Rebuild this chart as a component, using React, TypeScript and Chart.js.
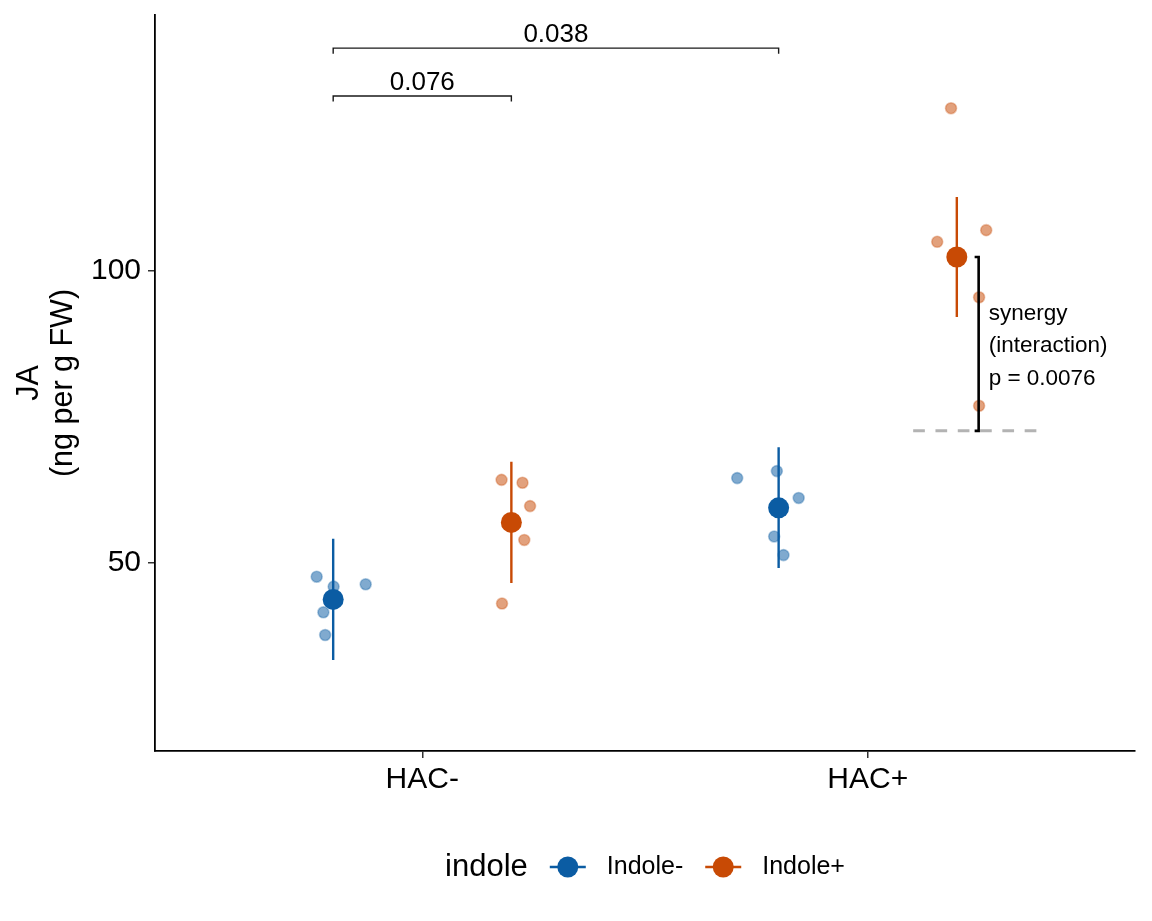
import React, { useEffect, useRef } from 'react';
import { Chart, registerables } from 'chart.js';

Chart.register(...registerables);

// ---------------- data ----------------
const categories = ['HAC-', 'HAC+'];
const groupNames = ['Indole-', 'Indole+'];
const yTicks = [50, 100];
const yTitleLines = ['JA', '(ng per g FW)'];
const legendTitle = 'indole';

// individual observations (jittered), per category for each indole group
const obsIndoleMinusHACminus = [47.6, 45.9, 46.3, 41.5, 37.6];
const jitIndoleMinusHACminus = [-0.037, 0.001, 0.073, -0.022, -0.018];
const obsIndoleMinusHACplus = [64.5, 65.7, 61.1, 54.5, 51.3];
const jitIndoleMinusHACplus = [-0.093, -0.004, 0.045, -0.01, 0.011];
const obsIndolePlusHACminus = [64.2, 63.7, 59.7, 53.9, 43.0];
const jitIndolePlusHACminus = [-0.022, 0.025, 0.042, 0.029, -0.021];
const obsIndolePlusHACplus = [127.9, 105.0, 107.0, 95.5, 76.9];
const jitIndolePlusHACplus = [-0.013, -0.044, 0.066, 0.05, 0.05];

// summary (mean with error bar), order: HAC-, HAC+
const meanIndoleMinus = [43.7, 59.4];
const lowIndoleMinus = [33.3, 49.1];
const highIndoleMinus = [54.1, 69.8];
const meanIndolePlus = [56.9, 102.4];
const lowIndolePlus = [46.5, 92.1];
const highIndolePlus = [67.3, 112.7];

// significance brackets: [categoryIndex, groupIndex]
const bracketFrom = [[0, 0], [0, 0]];
const bracketTo = [[0, 1], [1, 0]];
const bracketLabels = ['0.076', '0.038'];
const bracketHeights = [130.0, 138.2];

const synergyLines = ['synergy', '(interaction)', 'p = 0.0076'];

// ---------------- styling ----------------
const FONT = '"Liberation Sans", Arial, Helvetica, sans-serif';
const COLORS = ['#0B5CA3', '#C84A05'];
const POINT_FILL = ['rgba(11,92,163,0.52)', 'rgba(200,74,5,0.52)'];
const POINT_BORDER = ['rgba(11,92,163,0.32)', 'rgba(200,74,5,0.32)'];
const DODGE = 0.2;

const xPos = (cat: number, grp: number) => cat + 1 + (grp === 0 ? -DODGE : DODGE);

const obs = [
  [obsIndoleMinusHACminus, obsIndoleMinusHACplus],
  [obsIndolePlusHACminus, obsIndolePlusHACplus],
];
const jit = [
  [jitIndoleMinusHACminus, jitIndoleMinusHACplus],
  [jitIndolePlusHACminus, jitIndolePlusHACplus],
];
const means = [meanIndoleMinus, meanIndolePlus];
const lows = [lowIndoleMinus, lowIndolePlus];
const highs = [highIndoleMinus, highIndolePlus];

const annotationPlugin = {
  id: 'annotations',
  afterDatasetsDraw(chart: any) {
    const ctx = chart.ctx as CanvasRenderingContext2D;
    const xs = chart.scales.x;
    const ys = chart.scales.y;
    ctx.save();

    // significance brackets
    ctx.strokeStyle = '#1a1a1a';
    ctx.lineWidth = 1.4;
    ctx.fillStyle = '#000';
    ctx.font = `26px ${FONT}`;
    ctx.textAlign = 'center';
    ctx.textBaseline = 'alphabetic';
    bracketLabels.forEach((lab, i) => {
      const x1 = xs.getPixelForValue(xPos(bracketFrom[i][0], bracketFrom[i][1]));
      const x2 = xs.getPixelForValue(xPos(bracketTo[i][0], bracketTo[i][1]));
      const yTop = ys.getPixelForValue(bracketHeights[i]);
      const yTip = ys.getPixelForValue(bracketHeights[i] - 0.95);
      ctx.beginPath();
      ctx.moveTo(x1, yTip);
      ctx.lineTo(x1, yTop);
      ctx.lineTo(x2, yTop);
      ctx.lineTo(x2, yTip);
      ctx.stroke();
      ctx.fillText(lab, (x1 + x2) / 2, yTop - 6);
    });

    // synergy: additive expectation vs observed
    const additive = meanIndolePlus[0] + meanIndoleMinus[1] - meanIndoleMinus[0];
    const base = xPos(1, 1);
    const yAdd = ys.getPixelForValue(additive);
    const yObs = ys.getPixelForValue(meanIndolePlus[1]);
    ctx.strokeStyle = '#b3b3b3';
    ctx.lineWidth = 3;
    ctx.setLineDash([11.7, 10.6]);
    ctx.beginPath();
    ctx.moveTo(xs.getPixelForValue(base - 0.098), yAdd);
    ctx.lineTo(xs.getPixelForValue(base + 0.18), yAdd);
    ctx.stroke();
    ctx.setLineDash([]);

    const bx = xs.getPixelForValue(base + 0.049);
    const tx = xs.getPixelForValue(base + 0.049 - 0.009);
    ctx.strokeStyle = '#000';
    ctx.lineWidth = 2.6;
    ctx.beginPath();
    ctx.moveTo(tx, yObs);
    ctx.lineTo(bx, yObs);
    ctx.lineTo(bx, yAdd);
    ctx.lineTo(tx, yAdd);
    ctx.stroke();

    ctx.font = `22.5px ${FONT}`;
    ctx.textAlign = 'left';
    ctx.textBaseline = 'middle';
    const mid = (yObs + yAdd) / 2 + 2;
    synergyLines.forEach((t, i) => {
      ctx.fillText(t, bx + 10, mid + (i - (synergyLines.length - 1) / 2) * 32.5);
    });
    ctx.restore();
  },
  afterDraw(chart: any) {
    const ctx = chart.ctx as CanvasRenderingContext2D;
    const area = chart.chartArea;
    ctx.save();
    // y axis title
    ctx.fillStyle = '#000';
    ctx.font = `30.5px ${FONT}`;
    ctx.textAlign = 'center';
    ctx.textBaseline = 'alphabetic';
    const cy = (area.top + area.bottom) / 2;
    ctx.translate(38, cy);
    ctx.rotate(-Math.PI / 2);
    yTitleLines.forEach((t, i) => {
      ctx.fillText(t, 0, i * 34);
    });
    ctx.restore();

    // legend
    ctx.save();
    const ly = 867;
    ctx.textBaseline = 'middle';
    ctx.textAlign = 'left';
    ctx.font = `31px ${FONT}`;
    const wTitle = ctx.measureText(legendTitle).width;
    ctx.font = `25px ${FONT}`;
    const wLabs = groupNames.map((g) => ctx.measureText(g).width);
    const keyW = 36;
    const total = wTitle + groupNames.length * (22 + keyW + 21) + wLabs.reduce((a, b) => a + b, 0);
    let x = (area.left + area.right) / 2 - total / 2;
    ctx.fillStyle = '#000';
    ctx.font = `31px ${FONT}`;
    ctx.fillText(legendTitle, x, ly);
    x += wTitle + 22;
    groupNames.forEach((g, i) => {
      ctx.strokeStyle = COLORS[i];
      ctx.lineWidth = 2.5;
      ctx.beginPath();
      ctx.moveTo(x, ly);
      ctx.lineTo(x + keyW, ly);
      ctx.stroke();
      ctx.fillStyle = COLORS[i];
      ctx.beginPath();
      ctx.arc(x + keyW / 2, ly, 10.5, 0, Math.PI * 2);
      ctx.fill();
      x += keyW + 21;
      ctx.fillStyle = '#000';
      ctx.font = `25px ${FONT}`;
      ctx.fillText(g, x, ly);
      x += wLabs[i] + 22;
    });
    ctx.restore();
  },
};

export default function App() {
  const ref = useRef<HTMLCanvasElement | null>(null);

  useEffect(() => {
    if (!ref.current) return;
    const datasets: any[] = [];
    // means
    groupNames.forEach((g, gi) => {
      datasets.push({
        type: 'scatter',
        label: g,
        data: categories.map((_, ci) => ({ x: xPos(ci, gi), y: means[gi][ci] })),
        backgroundColor: COLORS[gi],
        borderWidth: 0,
        pointRadius: 10.5,
        order: 0,
      });
    });
    // error bars
    groupNames.forEach((g, gi) => {
      const d: any[] = [];
      categories.forEach((_, ci) => {
        const x = xPos(ci, gi);
        d.push({ x, y: lows[gi][ci] });
        d.push({ x, y: highs[gi][ci] });
        d.push({ x, y: null });
      });
      datasets.push({
        type: 'scatter',
        label: g + ' err',
        data: d,
        showLine: true,
        spanGaps: false,
        borderColor: COLORS[gi],
        borderWidth: 2.4,
        pointRadius: 0,
        order: 1,
      });
    });
    // observations
    groupNames.forEach((g, gi) => {
      const d: any[] = [];
      categories.forEach((_, ci) => {
        obs[gi][ci].forEach((v, k) => {
          d.push({ x: xPos(ci, gi) + jit[gi][ci][k], y: v });
        });
      });
      datasets.push({
        type: 'scatter',
        label: g + ' obs',
        data: d,
        backgroundColor: POINT_FILL[gi],
        borderColor: POINT_BORDER[gi],
        borderWidth: 1.6,
        pointRadius: 5.5,
        order: 2,
      });
    });

    const chart = new Chart(ref.current, {
      type: 'scatter',
      data: { datasets },
      options: {
        responsive: false,
        animation: false,
        events: [],
        layout: { padding: { left: 0, top: 15, right: 17, bottom: 100 } },
        plugins: { legend: { display: false }, tooltip: { enabled: false } },
        scales: {
          x: {
            type: 'linear',
            min: 0.4,
            max: 2.6,
            afterBuildTicks: (s: any) => {
              s.ticks = categories.map((_, i) => ({ value: i + 1 }));
            },
            afterFit: (s: any) => {
              s.height = 70;
              s.paddingLeft = 0;
              s.paddingRight = 0;
            },
            ticks: {
              callback: (v: any) => categories[Math.round(Number(v)) - 1] ?? '',
              font: { family: FONT, size: 30 },
              color: '#000',
              padding: 4,
              maxRotation: 0,
              autoSkip: false,
            },
            grid: { display: true, drawOnChartArea: false, color: '#333', tickLength: 7, lineWidth: 1.5 },
            border: { display: true, color: '#000', width: 1.8 },
          },
          y: {
            type: 'linear',
            min: 17.72,
            max: 143.88,
            afterBuildTicks: (s: any) => {
              s.ticks = yTicks.map((v) => ({ value: v }));
            },
            afterFit: (s: any) => {
              s.width = 155;
              s.paddingTop = 0;
              s.paddingBottom = 0;
            },
            ticks: {
              font: { family: FONT, size: 30 },
              color: '#000',
              padding: 7,
              autoSkip: false,
            },
            grid: { display: true, drawOnChartArea: false, color: '#333', tickLength: 7, lineWidth: 1.5 },
            border: { display: true, color: '#000', width: 1.8 },
          },
        },
      },
      plugins: [annotationPlugin],
    } as any);
    return () => chart.destroy();
  }, []);

  return (
    <div style={{ position: 'absolute', left: 0, top: 0, width: 1152, height: 921, background: '#fff' }}>
      <canvas ref={ref} width={1152} height={921} style={{ display: 'block' }} />
    </div>
  );
}
